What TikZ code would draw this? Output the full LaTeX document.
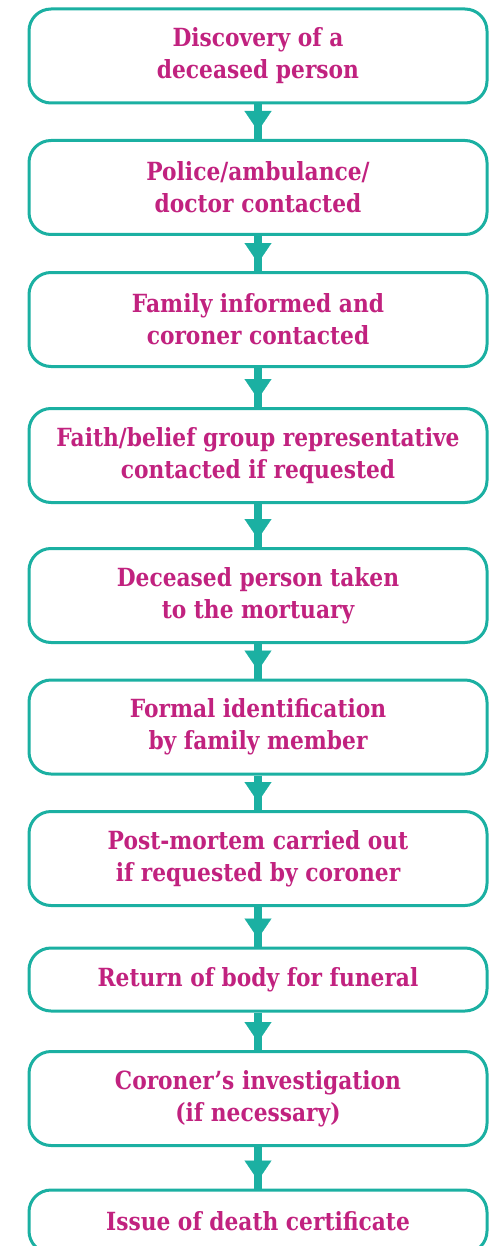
\documentclass[tikz,border=0pt]{standalone}
\usepackage{fontspec}
\setmainfont{DejaVu Serif}[FakeStretch=0.87]
\usetikzlibrary{arrows.meta,decorations.markings}
\definecolor{LineClr}{RGB}{27,176,162}
\definecolor{TextClr}{RGB}{193,34,127}

\begin{document}
\begin{tikzpicture}[x=0.5pt,y=-0.5pt,
  StepBox/.style={draw=LineClr,line width=1.5pt,rounded corners=11pt,fill=white,
    minimum width=229pt,minimum height=47pt,inner sep=0pt,align=center,
    text=TextClr,font=\bfseries\fontsize{12.5}{16}\selectfont},
  Flow/.style={color=LineClr,line width=4pt,postaction={decorate},
    decoration={markings,mark=at position -4pt with
      {\arrow{Triangle[length=10pt,width=13.5pt,line width=0.1pt]}}}}]
\useasboundingbox (0,0) rectangle (493,1246);

\node[StepBox] (discovery) at (258,56) {Discovery of a\\deceased person};
\node[StepBox] (police) at (258,187.5) {Police/ambulance/\\doctor contacted};
\node[StepBox] (family) at (258,319.5) {Family informed and\\coroner contacted};
\node[StepBox] (faith) at (258,455.5) {Faith/belief group representative\\contacted if requested};
\node[StepBox] (mortuary) at (258,595.5) {Deceased person taken\\to the mortuary};
\node[StepBox] (ident) at (258,727) {Formal identification\\by family member};
\node[StepBox] (postmortem) at (258,858.5) {Post-mortem carried out\\if requested by coroner};
\node[StepBox,minimum height=31.5pt] (funeral) at (258,979.5) {Return of body for funeral};
\node[StepBox] (inquest) at (258,1098.5) {Coroner’s investigation\\(if necessary)};
\node[StepBox,minimum height=31.5pt] (certificate) at (258,1221.5) {Issue of death certificate};

\foreach \a/\b in {discovery/police,police/family,family/faith,faith/mortuary,
  mortuary/ident,ident/postmortem,postmortem/funeral,funeral/inquest,inquest/certificate}
  \draw[Flow] (\a.south) -- (\b.north);

\end{tikzpicture}
\end{document}
